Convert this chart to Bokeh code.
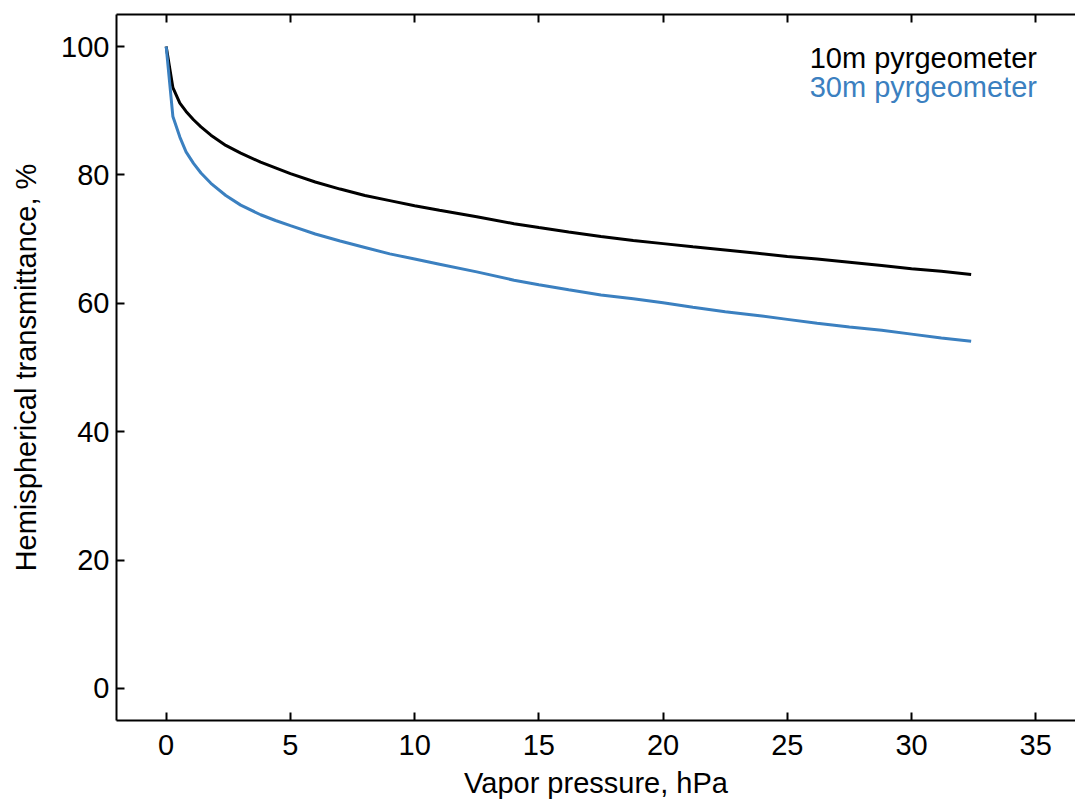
from bokeh.plotting import figure
from bokeh.models import LinearAxis, Range1d, Label, FixedTicker
from bokeh.embed import file_html
from bokeh.resources import INLINE

# Vapor pressure (hPa)
vapor = [0, 0.27, 0.55, 0.8, 1.1, 1.4, 1.8, 2.4, 3.0, 3.8, 4.4, 5.0, 6.0, 7.0, 8.0, 9.0,
         10.0, 11.0, 12.5, 14.0, 15.0, 16.2, 17.5, 18.8, 20.0, 21.2, 22.5, 23.8, 25.0,
         26.2, 27.5, 28.8, 30.0, 31.2, 32.4]
# Hemispherical transmittance, % (10 m pyrgeometer)
t10m = [100.0, 93.6, 91.2, 89.9, 88.6, 87.5, 86.2, 84.6, 83.4, 82.0, 81.1, 80.2, 78.9,
        77.8, 76.8, 76.0, 75.2, 74.5, 73.5, 72.4, 71.8, 71.1, 70.4, 69.8, 69.3, 68.8,
        68.3, 67.8, 67.3, 66.9, 66.4, 65.9, 65.4, 65.0, 64.5]
# Hemispherical transmittance, % (30 m pyrgeometer)
t30m = [100.0, 89.1, 85.9, 83.6, 81.8, 80.3, 78.7, 76.8, 75.3, 73.8, 72.9, 72.1, 70.8,
        69.7, 68.7, 67.7, 66.9, 66.1, 64.9, 63.6, 62.9, 62.1, 61.3, 60.7, 60.1, 59.4,
        58.7, 58.1, 57.5, 56.9, 56.3, 55.8, 55.2, 54.6, 54.1]

x_ticks = [0, 5, 10, 15, 20, 25, 30, 35]
y_ticks = [0, 20, 40, 60, 80, 100]
series_names = ["10m pyrgeometer", "30m pyrgeometer"]
series_colors = ["#000000", "#3b80c0"]
x_title = "Vapor pressure, hPa"
y_title = "Hemispherical transmittance, %"

FONT = "Liberation Sans"
FS = "29px"

p = figure(width=1075, height=801, output_backend="svg", toolbar_location=None,
           x_range=Range1d(-2, 36.6), y_range=Range1d(-5, 105),
           min_border_left=116, min_border_top=14, min_border_bottom=80,
           min_border_right=0, x_axis_location=None, y_axis_location=None)
p.grid.visible = False
p.outline_line_color = None
p.background_fill_color = "white"
p.border_fill_color = "white"

def style_axis(ax, labels=True):
    ax.axis_line_color = "black"
    ax.axis_line_width = 2
    ax.major_tick_in = 8
    ax.major_tick_out = 0
    ax.major_tick_line_width = 2
    ax.major_tick_line_color = "black"
    ax.minor_tick_line_color = None
    ax.major_label_text_font = FONT
    ax.major_label_text_font_size = FS if labels else "0px"
    ax.major_label_text_color = "black" if labels else None
    ax.axis_label_text_font = FONT
    ax.axis_label_text_font_size = FS
    ax.axis_label_text_font_style = "normal"
    ax.axis_label_text_color = "black"

xb = LinearAxis(ticker=FixedTicker(ticks=x_ticks), axis_label=x_title)
style_axis(xb)
xb.major_label_standoff = 14
xb.axis_label_standoff = 9
p.add_layout(xb, "below")

yl = LinearAxis(ticker=FixedTicker(ticks=y_ticks), axis_label=y_title)
style_axis(yl)
yl.major_label_standoff = 7
yl.axis_label_standoff = 16
p.add_layout(yl, "left")

xt = LinearAxis(ticker=FixedTicker(ticks=x_ticks))
style_axis(xt, labels=False)
xt.major_label_standoff = 0
p.add_layout(xt, "above")

p.line(vapor, t10m, line_color=series_colors[0], line_width=3)
p.line(vapor, t30m, line_color=series_colors[1], line_width=3)

for name, color, yy in zip(series_names, series_colors, [98.2, 93.7]):
    p.add_layout(Label(x=25.9, y=yy, text=name, text_color=color,
                       text_font=FONT, text_font_size=FS,
                       text_baseline="alphabetic", text_align="left"))

open("out.html", "w").write(file_html(p, INLINE))
